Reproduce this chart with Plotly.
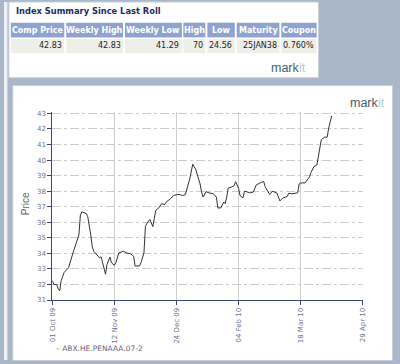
import plotly.graph_objects as go

# ---- data ----
dates = [
    "2009-10-01", "2009-10-02", "2009-10-04", "2009-10-05", "2009-10-06", "2009-10-07",
    "2009-10-09", "2009-10-11", "2009-10-12", "2009-10-15", "2009-10-17", "2009-10-19",
    "2009-10-20", "2009-10-21", "2009-10-24", "2009-10-25", "2009-10-27", "2009-10-28",
    "2009-10-29", "2009-10-31", "2009-11-02", "2009-11-03", "2009-11-05", "2009-11-06",
    "2009-11-07", "2009-11-09", "2009-11-10", "2009-11-12", "2009-11-13", "2009-11-15",
    "2009-11-18", "2009-11-20", "2009-11-23", "2009-11-25", "2009-11-26", "2009-11-29",
    "2009-11-30", "2009-12-02", "2009-12-03", "2009-12-04", "2009-12-06", "2009-12-07",
    "2009-12-08", "2009-12-09", "2009-12-10", "2009-12-12", "2009-12-14", "2009-12-16",
    "2009-12-17", "2009-12-20", "2009-12-22", "2009-12-24", "2009-12-26", "2009-12-28",
    "2009-12-30", "2010-01-02", "2010-01-03", "2010-01-04", "2010-01-06", "2010-01-07",
    "2010-01-09", "2010-01-10", "2010-01-11", "2010-01-13", "2010-01-15", "2010-01-18",
    "2010-01-20", "2010-01-21", "2010-01-23", "2010-01-25", "2010-01-26", "2010-01-27",
    "2010-01-28", "2010-01-30", "2010-02-01", "2010-02-02", "2010-02-04", "2010-02-05",
    "2010-02-07", "2010-02-08", "2010-02-10", "2010-02-12", "2010-02-14", "2010-02-16",
    "2010-02-18", "2010-02-21", "2010-02-22", "2010-02-25", "2010-02-27", "2010-03-02",
    "2010-03-04", "2010-03-06", "2010-03-09", "2010-03-10", "2010-03-12", "2010-03-14",
    "2010-03-16", "2010-03-17", "2010-03-18", "2010-03-21", "2010-03-24", "2010-03-25",
    "2010-03-27", "2010-03-29", "2010-03-30", "2010-04-01", "2010-04-03", "2010-04-05",
    "2010-04-06", "2010-04-08",
]
prices = [
    32.24, 32.0, 32.0, 31.7, 31.6, 32.24,
    32.77, 32.98, 33.08, 34.03, 34.56, 35.19,
    36.46, 36.67, 36.56, 36.35, 35.19, 34.45,
    34.14, 33.92, 33.71, 33.78, 32.98, 32.66,
    33.29, 33.76, 33.4, 33.23, 33.4, 34.03,
    34.14, 34.03, 33.97, 33.82, 33.19, 33.19,
    33.4, 34.03, 35.72, 35.93, 36.18, 35.87,
    35.72, 36.25, 36.77, 36.92, 37.2, 37.13,
    37.3, 37.51, 37.72, 37.77, 37.79, 37.72,
    37.77, 38.78, 39.41, 39.73, 39.41, 39.1,
    38.46, 37.94, 37.62, 37.97, 37.89, 37.83,
    37.62, 36.92, 36.92, 37.3, 37.2, 37.62,
    38.19, 38.25, 38.35, 38.61, 38.19, 37.72,
    37.56, 38.0, 37.94, 37.89, 37.94, 38.4,
    38.5, 38.63, 38.29, 37.79, 38.0, 37.87,
    37.37, 37.56, 37.66, 37.87, 37.83, 37.87,
    37.89, 38.46, 38.53, 38.53, 38.92, 39.2,
    39.58, 39.68, 40.25, 41.31, 41.46, 41.48,
    42.05, 42.83,
]
series_name = "ABX.HE.PENAAA.07-2"

x_tick_dates = ["2009-10-01", "2009-11-12", "2009-12-24", "2010-02-04", "2010-03-18", "2010-04-29"]
y_ticks = [31, 32, 33, 34, 35, 36, 37, 38, 39, 40, 41, 42, 43]

table_title = "Index Summary Since Last Roll"
table_headers = ["Comp Price", "Weekly High", "Weekly Low", "High", "Low", "Maturity", "Coupon"]
table_values = ["42.83", "42.83", "41.29", "70", "24.56", "25JAN38", "0.760%"]

# ---- layout helpers (pixel -> paper) ----
W, H = 400, 364


def px(x):
    return x / W


def py(y):
    return 1 - y / H


BG = "#a9b7c9"
FONT = "DejaVu Sans, Verdana, sans-serif"
shapes = []
annotations = []


def rect(x0, y0, x1, y1, fill, line=None, lw=0):
    shapes.append(dict(type="rect", xref="paper", yref="paper",
                       x0=px(x0), x1=px(x1), y0=py(y1), y1=py(y0),
                       fillcolor=fill, line=dict(color=line or fill, width=lw),
                       layer="below"))


def text(x, y, s, size, color, xanchor="left", angle=0, family=FONT):
    annotations.append(dict(x=px(x), y=py(y), xref="paper", yref="paper",
                            text=s, showarrow=False, textangle=angle,
                            xanchor=xanchor, yanchor="middle", borderpad=0,
                            font=dict(family=family, size=size, color=color)))


# left light strip
rect(0, 0, 3.5, 364, "#eef1f5")
# top summary panel
rect(5, 0, 321, 77, "#ffffff", "#c9cfd8", 1)
# chart panel
rect(9, 85, 396.5, 364.5, "#ffffff", "#c9cfd8", 1)

# title
text(11, 9.5, "<b>" + table_title + "</b>", 8.3, "#1d2b63")

cell_edges = [(7, 61.5), (63.5, 121.5), (123.5, 181.5), (183, 205.5),
              (207.5, 235.5), (237.5, 281), (283, 319)]
for (x0, x1), h, v in zip(cell_edges, table_headers, table_values):
    rect(x0, 21, x1, 36, "#8fa3cf")
    rect(x0, 37.5, x1, 52, "#efefe9")
    text((x0 + x1) / 2, 28.5, "<b>" + h + "</b>", 8, "#ffffff", xanchor="center")
    text(x1 - 1.5, 44.5, v, 8, "#222222", xanchor="right")

# markit logos
LOGO_FONT = "Liberation Sans, Arial, sans-serif"
for (xr, yc) in [(303, 67), (384, 102.5)]:
    text(xr, yc, "mark", 12.5, "#3f5f70", xanchor="right", family=LOGO_FONT)
    text(xr - 3, yc, "it", 12.5, "#a8d0d6", xanchor="left", family=LOGO_FONT)

# y axis title
text(22, 205, "Price", 10, "#666666", xanchor="center", angle=-90,
     family="Liberation Sans, Arial, sans-serif")

# legend-like label
text(52, 352, "\u2013 " + series_name, 7.5, "#666677")

fig = go.Figure()
fig.add_trace(go.Scatter(x=dates, y=prices, mode="lines", name=series_name,
                         line=dict(color="#333333", width=1), showlegend=False))

tick_font = dict(family=FONT, size=7, color="#6a7390")
fig.update_layout(
    width=W, height=H,
    margin=dict(l=0, r=0, t=0, b=0),
    paper_bgcolor=BG,
    plot_bgcolor="#eeeeee",
    shapes=shapes,
    annotations=annotations,
    showlegend=False,
    xaxis=dict(
        domain=[px(49.3), px(366)],
        range=["2009-10-01", "2010-04-29"],
        tickvals=x_tick_dates,
        tickformat="%d %b %y",
        tickangle=-90,
        tickfont=tick_font,
        ticks="outside", ticklen=4, tickcolor="#3a4678",
        showline=True, linecolor="#3a4678", linewidth=1,
        showgrid=True, gridcolor="#cfcfcf", gridwidth=1,
        zeroline=False,
    ),
    yaxis=dict(
        domain=[py(303), py(112)],
        range=[31, 43.08],
        tickvals=y_ticks,
        tickfont=tick_font,
        ticks="outside", ticklen=4, tickcolor="#3a4678",
        showline=True, linecolor="#3a4678", linewidth=1,
        showgrid=True, gridcolor="#cccccc", gridwidth=1, griddash="dashdot",
        zeroline=False,
    ),
)

fig.write_html("out.html",
               config={"displayModeBar": False},
               post_script="document.body.style.margin='0';document.body.style.background='%s';" % BG)
